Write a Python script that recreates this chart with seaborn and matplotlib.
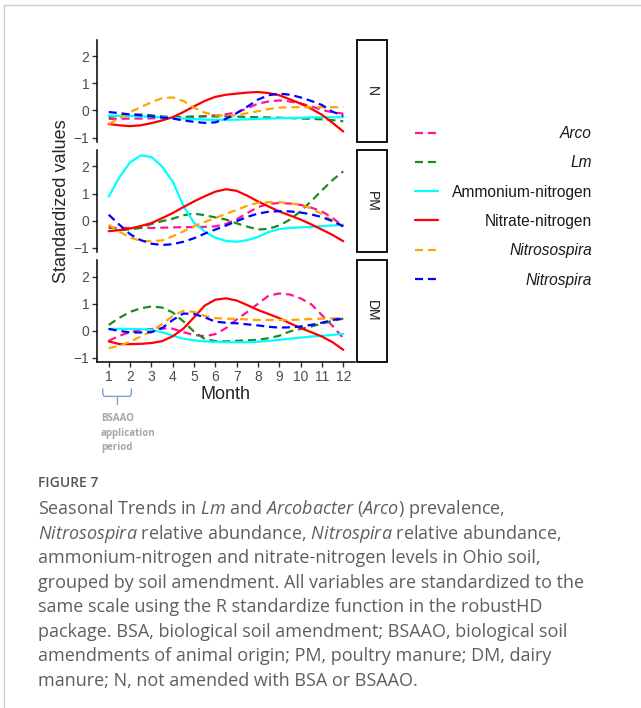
import numpy as np
import pandas as pd
import seaborn as sns
import matplotlib.pyplot as plt
from matplotlib.lines import Line2D
from matplotlib.patches import Rectangle

months = [1, 1.5, 2, 2.5, 3, 3.5, 4, 4.5, 5, 5.5, 6, 6.5,
          7, 7.5, 8, 8.5, 9, 9.5, 10, 10.5, 11, 11.5, 12]
amendments = ['N', 'PM', 'DM']
variables = ['Arco', 'Lm', 'Ammonium-nitrogen', 'Nitrate-nitrogen', 'Nitrosospira', 'Nitrospira']
italic_vars = ['Arco', 'Lm', 'Nitrosospira', 'Nitrospira']
colors = ['#FF1493', '#1E8B1E', '#00FFFF', '#FF0000', '#FFA500', '#0000FF']

# not amended
n_arco = [-0.31, -0.31, -0.30, -0.30, -0.29, -0.28, -0.27, -0.26, -0.24, -0.21, -0.18, -0.14, -0.08, 0.08, 0.25, 0.33, 0.37, 0.33, 0.26, 0.15, 0.02, -0.07, -0.12]
n_lm = [-0.25, -0.18, -0.15, -0.15, -0.18, -0.22, -0.25, -0.24, -0.22, -0.22, -0.22, -0.22, -0.23, -0.24, -0.25, -0.26, -0.27, -0.28, -0.30, -0.31, -0.33, -0.36, -0.40]
n_nh4 = [-0.19, -0.20, -0.21, -0.22, -0.24, -0.26, -0.28, -0.30, -0.32, -0.34, -0.35, -0.35, -0.34, -0.33, -0.31, -0.30, -0.29, -0.28, -0.27, -0.26, -0.25, -0.25, -0.25]
n_no3 = [-0.50, -0.55, -0.58, -0.55, -0.47, -0.37, -0.25, -0.06, 0.15, 0.35, 0.50, 0.58, 0.62, 0.66, 0.68, 0.64, 0.56, 0.41, 0.25, 0.06, -0.16, -0.46, -0.78]
n_nso = [-0.50, -0.30, -0.06, 0.12, 0.30, 0.45, 0.48, 0.35, 0.10, -0.08, -0.17, -0.20, -0.18, -0.10, -0.03, 0.05, 0.10, 0.12, 0.12, 0.12, 0.12, 0.12, 0.12]
n_nsp = [-0.06, -0.10, -0.15, -0.18, -0.22, -0.26, -0.30, -0.37, -0.42, -0.46, -0.44, -0.31, -0.10, 0.14, 0.40, 0.56, 0.62, 0.58, 0.48, 0.35, 0.20, -0.05, -0.20]

# poultry manure
pm_arco = [-0.27, -0.27, -0.27, -0.27, -0.27, -0.26, -0.25, -0.24, -0.24, -0.23, -0.21, -0.12, 0.05, 0.28, 0.50, 0.62, 0.65, 0.63, 0.58, 0.48, 0.34, 0.10, -0.21]
pm_lm = [-0.21, -0.35, -0.32, -0.27, -0.12, -0.02, 0.07, 0.20, 0.26, 0.20, 0.12, 0.04, -0.10, -0.22, -0.33, -0.30, -0.18, 0.04, 0.35, 0.72, 1.12, 1.50, 1.82]
pm_nh4 = [0.89, 1.60, 2.15, 2.41, 2.35, 2.00, 1.45, 0.55, -0.08, -0.40, -0.63, -0.75, -0.78, -0.72, -0.60, -0.42, -0.31, -0.27, -0.25, -0.23, -0.20, -0.18, -0.15]
pm_no3 = [-0.39, -0.35, -0.29, -0.20, -0.09, 0.09, 0.28, 0.50, 0.71, 0.90, 1.07, 1.16, 1.10, 0.92, 0.71, 0.52, 0.34, 0.19, 0.04, -0.14, -0.33, -0.53, -0.76]
pm_nso = [-0.15, -0.41, -0.62, -0.75, -0.76, -0.73, -0.58, -0.40, -0.20, -0.05, 0.10, 0.25, 0.40, 0.55, 0.66, 0.68, 0.68, 0.65, 0.58, 0.45, 0.24, 0.00, -0.21]
pm_nsp = [0.22, -0.15, -0.50, -0.72, -0.85, -0.90, -0.87, -0.78, -0.65, -0.48, -0.33, -0.18, -0.02, 0.14, 0.26, 0.33, 0.35, 0.34, 0.30, 0.23, 0.13, -0.02, -0.21]

# dairy manure
dm_arco = [-0.37, -0.18, -0.05, 0.03, 0.07, 0.09, 0.08, -0.05, -0.15, -0.20, -0.12, 0.10, 0.42, 0.70, 1.00, 1.30, 1.38, 1.34, 1.20, 0.98, 0.58, 0.18, -0.27]
dm_lm = [0.22, 0.48, 0.70, 0.83, 0.90, 0.86, 0.68, 0.35, -0.03, -0.30, -0.38, -0.39, -0.37, -0.35, -0.33, -0.27, -0.18, -0.02, 0.07, 0.16, 0.27, 0.37, 0.45]
dm_nh4 = [0.07, 0.07, 0.07, 0.06, 0.04, -0.05, -0.18, -0.29, -0.35, -0.39, -0.41, -0.42, -0.42, -0.42, -0.40, -0.37, -0.33, -0.29, -0.25, -0.21, -0.18, -0.15, -0.11]
dm_no3 = [-0.39, -0.49, -0.49, -0.48, -0.45, -0.38, -0.20, 0.08, 0.50, 0.93, 1.15, 1.20, 1.12, 0.95, 0.77, 0.62, 0.47, 0.28, 0.10, -0.05, -0.21, -0.42, -0.70]
dm_nso = [-0.64, -0.55, -0.40, -0.21, -0.02, 0.25, 0.55, 0.74, 0.70, 0.55, 0.47, 0.45, 0.44, 0.42, 0.40, 0.40, 0.40, 0.40, 0.42, 0.44, 0.45, 0.46, 0.47]
dm_nsp = [0.07, 0.00, -0.06, -0.06, -0.05, 0.10, 0.40, 0.64, 0.62, 0.50, 0.34, 0.30, 0.28, 0.24, 0.20, 0.15, 0.12, 0.13, 0.16, 0.22, 0.30, 0.40, 0.47]

series = {
    'N': [n_arco, n_lm, n_nh4, n_no3, n_nso, n_nsp],
    'PM': [pm_arco, pm_lm, pm_nh4, pm_no3, pm_nso, pm_nsp],
    'DM': [dm_arco, dm_lm, dm_nh4, dm_no3, dm_nso, dm_nsp],
}

rows = []
for amend in amendments:
    for var, vals in zip(variables, series[amend]):
        for m, v in zip(months, vals):
            rows.append({'Amendment': amend, 'Variable': var, 'Month': m, 'Value': v})
df = pd.DataFrame(rows)

sns.set_style('ticks')
plt.rcParams['font.family'] = ['Liberation Sans', 'DejaVu Sans']
plt.rcParams['mathtext.fontset'] = 'custom'
plt.rcParams['mathtext.rm'] = 'Open Sans'
plt.rcParams['mathtext.it'] = 'Open Sans:italic'

pal = dict(zip(variables, colors))
dash = (3.6, 2.2)
dash_map = {'Arco': dash, 'Lm': dash, 'Ammonium-nitrogen': '', 'Nitrate-nitrogen': '',
            'Nitrosospira': dash, 'Nitrospira': dash}

g = sns.FacetGrid(df, row='Amendment', row_order=amendments, height=1.4, aspect=3)
g.map_dataframe(sns.lineplot, x='Month', y='Value', hue='Variable', style='Variable',
                hue_order=variables, style_order=variables, palette=pal, dashes=dash_map,
                linewidth=1.6, errorbar=None, legend=False)
fig = g.figure
fig.set_size_inches(6.41, 7.08)
fig.subplots_adjust(left=97/641, right=355/641, top=1-40/708, bottom=1-362/708, hspace=0.085)
g.set_titles(row_template='', col_template='')
g.set_ylabels('')
g.set_xlabels('Month', fontsize=13, labelpad=2)

for i, (ax, name) in enumerate(zip(g.axes.flat, amendments)):
    ax.set_xlim(0.45, 12.55)
    ax.set_ylim(-1.15, 2.6)
    ax.set_yticks([-1, 0, 1, 2])
    ax.set_xticks(range(1, 13))
    for s in ['left', 'bottom']:
        ax.spines[s].set_linewidth(1.1)
        ax.spines[s].set_color('black')
    ax.tick_params(labelsize=10, labelcolor='#4D4D4D', color='#333333', length=3.5, width=1, pad=2)
    if i < 2:
        ax.spines['bottom'].set_visible(False)
        ax.tick_params(bottom=False, labelbottom=False)
    ax.add_patch(Rectangle((1 + 2/258, 0), 30/258, 1, transform=ax.transAxes, clip_on=False,
                           facecolor='white', edgecolor='black', lw=1.3))
    ax.text(1 + 17/258, 0.5, name, rotation=270, ha='center', va='center',
            transform=ax.transAxes, fontsize=10, color='#1A1A1A')

fig.text(62/641, 1-201/708, 'Standardized values', rotation=90, ha='center', va='center', fontsize=13)

# legend, labels right-aligned like ggplot
handles = [Line2D([], [], color=c, lw=1.6, dashes=dash_map[v] if dash_map[v] else (None, None),
                  linestyle='--' if dash_map[v] else '-')
           for v, c in zip(variables, colors)]
leg = fig.legend(handles, variables, loc='upper left', bbox_to_anchor=(415/641, 1-126/708),
                 frameon=False, fontsize=11.2, handlelength=1.45, handletextpad=0.9,
                 labelspacing=0.92, borderpad=0, borderaxespad=0)
for t in leg.get_texts():
    t.set_color('#1A1A1A')
    if t.get_text() in italic_vars:
        t.set_fontstyle('italic')
fig.canvas.draw()
renderer = fig.canvas.get_renderer()
widths = [t.get_window_extent(renderer).width for t in leg.get_texts()]
shift = max(widths)
for t, w in zip(leg.get_texts(), widths):
    t.set_position((shift - w, 0))

# BSAAO application period brace
axb = g.axes.flat[-1]
tr = axb.get_xaxis_transform()
py = lambda p: -(p - 362) / 102
bx = [0.72, 0.72, 0.78, 2.0, 2.06, 2.06]
by = [py(389), py(394), py(396.5), py(396.5), py(394), py(389)]
axb.plot(bx, by, transform=tr, clip_on=False, color='#7F9FD6', lw=1)
axb.plot([1.39, 1.39], [py(396.5), py(404)], transform=tr, clip_on=False, color='#7F9FD6', lw=1)
fig.text(101/641, 1-413/708, 'BSAAO\napplication\nperiod', ha='left', va='top', fontsize=7,
         fontweight='bold', color='#A6A6A6', family='Open Sans', linespacing=1.45)

# page frame
fig.add_artist(Line2D([4/641, 1], [1-5/708, 1-5/708], transform=fig.transFigure, color='#CCCCCC', lw=1))
fig.add_artist(Line2D([4/641, 4/641], [0, 1-5/708], transform=fig.transFigure, color='#CCCCCC', lw=1))

# caption
fig.text(38/641, 1-483/708, 'FIGURE 7', ha='left', va='center', fontsize=10, color='#555555',
         family='Open Sans', fontweight='semibold')
caption = [
    r'Seasonal Trends in $\mathit{Lm}$ and $\mathit{Arcobacter}$ ($\mathit{Arco}$) prevalence,',
    r'$\mathit{Nitrosospira}$ relative abundance, $\mathit{Nitrospira}$ relative abundance,',
    'ammonium-nitrogen and nitrate-nitrogen levels in Ohio soil,',
    'grouped by soil amendment. All variables are standardized to the',
    'same scale using the R standardize function in the robustHD',
    'package. BSA, biological soil amendment; BSAAO, biological soil',
    'amendments of animal origin; PM, poultry manure; DM, dairy',
    'manure; N, not amended with BSA or BSAAO.',
]
for i, line in enumerate(caption):
    fig.text(38/641, 1-(509 + 24.57*i)/708, line, ha='left', va='center', fontsize=12.95,
             color='#5E5E5E', family='Open Sans')

plt.savefig('out.png', dpi=100)
